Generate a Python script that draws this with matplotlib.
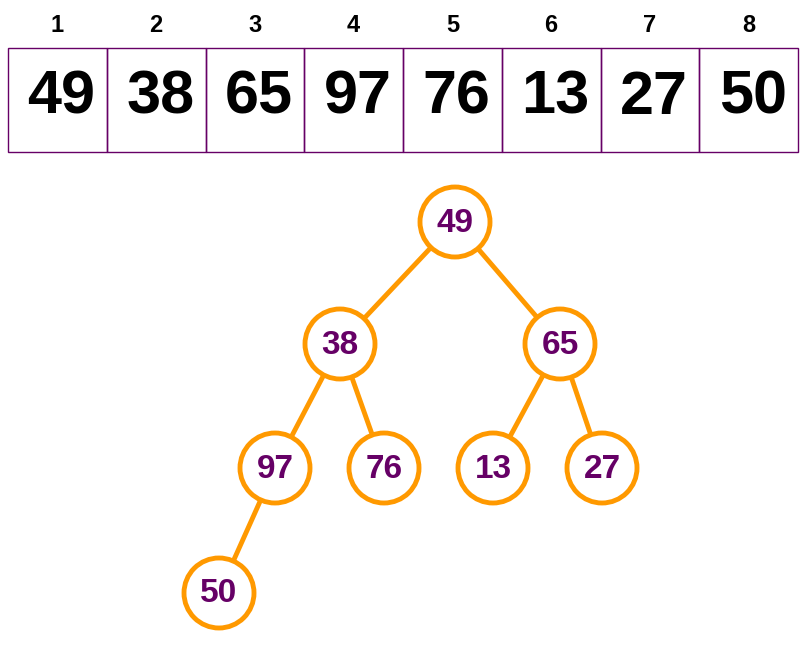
import matplotlib
matplotlib.use("Agg")
import matplotlib.pyplot as plt
from matplotlib.patches import Rectangle, Circle

# heap array (1-based index labels)
values = [49, 38, 65, 97, 76, 13, 27, 50]
indices = [1, 2, 3, 4, 5, 6, 7, 8]

# layout of tree nodes in pixel coordinates (node i -> parent (i-1)//2)
node_x = [455, 340, 560, 275, 384, 493, 602, 219]
node_y = [222, 344, 344, 468, 468, 468, 468, 593]

orange = "#FF9900"
purple = "#660066"

fig = plt.figure(figsize=(8.06, 6.47), dpi=100)
ax = fig.add_axes([0, 0, 1, 1])
ax.set_xlim(0, 806)
ax.set_ylim(647, 0)
ax.axis("off")

# array boxes
box_w = 98.75
for i, (idx, v) in enumerate(zip(indices, values)):
    x0 = 8 + i * box_w
    ax.add_patch(Rectangle((x0, 48), box_w, 104, fill=False, edgecolor=purple, lw=1))
    ax.text(x0 + box_w / 2, 25, str(idx), ha="center", va="center",
            fontsize=17, fontweight="bold", family="Liberation Sans")
    ax.text(x0 + box_w / 2 + 4, 98, str(v), ha="center", va="center",
            fontsize=44, fontweight="bold", family="Liberation Sans")

# edges
for i in range(1, len(values)):
    p = (i - 1) // 2
    ax.plot([node_x[p], node_x[i]], [node_y[p], node_y[i]], color=orange, lw=3.5, zorder=1)

# nodes
for x, y, v in zip(node_x, node_y, values):
    ax.add_patch(Circle((x, y), 35, facecolor="white", edgecolor=orange, lw=3.5, zorder=2))
    ax.text(x, y + 1, str(v), ha="center", va="center", color=purple,
            fontsize=24, fontweight="bold", family="Liberation Sans", zorder=3)

fig.savefig("out.png", dpi=100)
